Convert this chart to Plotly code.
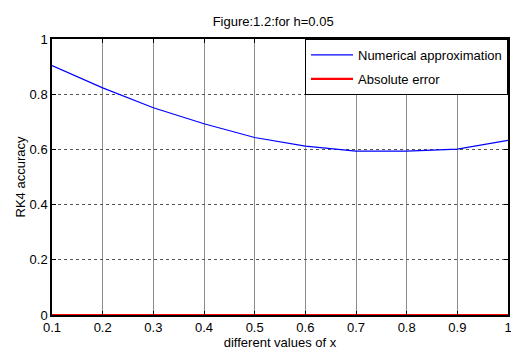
import plotly.graph_objects as go

x_vals = [0.1, 0.2, 0.3, 0.4, 0.5, 0.6, 0.7, 0.8, 0.9, 1.0]
numerical = [0.904, 0.823, 0.751, 0.693, 0.643, 0.612, 0.594, 0.594, 0.601, 0.633]
abs_error = [0.0, 1e-6, 2e-6, 3e-6, 4e-6, 5e-6, 6e-6, 7e-6, 8e-6, 9e-6]
x_ticks = [0.1, 0.2, 0.3, 0.4, 0.5, 0.6, 0.7, 0.8, 0.9, 1.0]
x_labels = ["0.1", "0.2", "0.3", "0.4", "0.5", "0.6", "0.7", "0.8", "0.9", "1"]
y_ticks = [0, 0.2, 0.4, 0.6, 0.8, 1.0]
y_labels = ["0", "0.2", "0.4", "0.6", "0.8", "1"]

fig = go.Figure()
fig.add_trace(go.Scatter(x=x_vals, y=numerical, mode="lines", name="Numerical approximation",
                         legendgroup="a", line=dict(color="#0000ff", width=1.2)))
fig.add_trace(go.Scatter(x=x_vals, y=abs_error, mode="lines", name="Absolute error",
                         legendgroup="b", line=dict(color="#ff0000", width=2.2)))

font = "Liberation Sans, Arial, sans-serif"
fig.update_layout(
    width=511, height=359,
    margin=dict(l=52, r=3, t=39, b=44, autoexpand=False),
    paper_bgcolor="white", plot_bgcolor="white",
    font=dict(family=font, color="black", size=13),
    title=dict(text="Figure:1.2:for h=0.05", xref="paper", x=0.485, xanchor="center",
               yref="container", y=0.94, yanchor="middle",
               font=dict(size=13, family=font)),
    showlegend=True,
    legend=dict(x=1, xanchor="right", y=1, yanchor="top", bordercolor="black", borderwidth=1,
                bgcolor="white", font=dict(size=13, family=font), tracegroupgap=4,
                itemwidth=42),
)
fig.update_xaxes(range=[0.1, 1.0], tickvals=x_ticks, ticktext=x_labels,
                 showline=True, linecolor="black", linewidth=1.5, mirror="ticks",
                 ticks="inside", ticklen=4, tickcolor="black", automargin=False,
                 ticklabeloverflow="allow",
                 showgrid=True, gridcolor="#8c8c8c", gridwidth=1,
                 zeroline=False, tickfont=dict(size=13), ticklabelstandoff=0,
                 title=dict(text="different values of x", font=dict(size=13), standoff=0))
fig.update_yaxes(range=[0, 1.0], tickvals=y_ticks, ticktext=y_labels,
                 showline=True, linecolor="black", linewidth=1.5, mirror="ticks",
                 ticks="inside", ticklen=4, tickcolor="black", automargin=False,
                 ticklabeloverflow="allow",
                 showgrid=True, gridcolor="#555555", griddash="dot", gridwidth=1,
                 zeroline=False, tickfont=dict(size=13),
                 title=dict(text="RK4 accuracy", font=dict(size=13), standoff=1))

fig.write_html("out.html")
